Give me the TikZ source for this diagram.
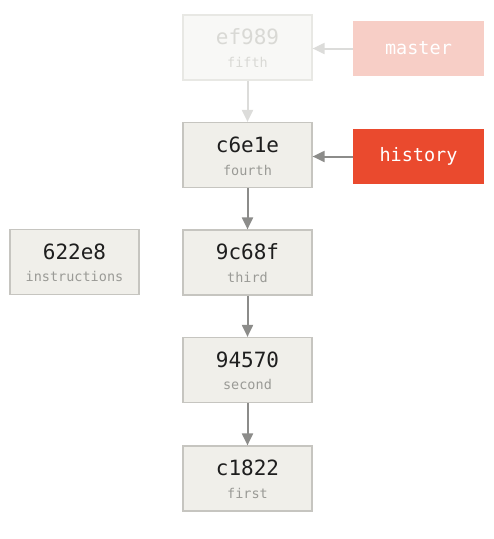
\documentclass[tikz,border=0pt]{standalone}
\usepackage{fontspec}
\setmonofont{DejaVu Sans Mono}
\usetikzlibrary{arrows.meta}
\definecolor{boxfill}{HTML}{F0EFEA}
\definecolor{boxline}{HTML}{C6C5C0}
\definecolor{arrowc}{HTML}{8C8C8A}
\definecolor{subtext}{HTML}{9A9A96}
\definecolor{hashtext}{HTML}{1E1E1E}
\definecolor{histfill}{HTML}{EA4A2E}
\definecolor{fadefill}{HTML}{F8F8F6}
\definecolor{fadeline}{HTML}{E8E8E4}
\definecolor{fadetext}{HTML}{D9D9D5}
\definecolor{fadearrow}{HTML}{DCDCDA}
\definecolor{masterfill}{HTML}{F7CEC6}
\tikzset{
  commit/.style={draw=boxline, fill=boxfill, line width=1.2pt, minimum width=129pt, minimum height=65pt, inner sep=0pt},
  fadecommit/.style={commit, draw=fadeline, fill=fadefill},
  branch/.style={fill=histfill, minimum width=131pt, minimum height=55pt, inner sep=0pt, text=white, font=\ttfamily\fontsize{18.5}{20}\selectfont},
  fadebranch/.style={branch, fill=masterfill},
  hashlbl/.style={font=\ttfamily\fontsize{21}{22}\selectfont, text=hashtext, inner sep=0pt},
  sublbl/.style={font=\ttfamily\fontsize{13.5}{15}\selectfont, text=subtext, inner sep=0pt},
  arr/.style={draw=arrowc, line width=2pt, -{Triangle[length=12pt,width=11pt]}},
  fadearr/.style={arr, draw=fadearrow}
}
\begin{document}
\begin{tikzpicture}[x=1pt,y=-1pt]
\useasboundingbox (0,0) rectangle (494,539);
% commits
\node[fadecommit] (ef) at (247.5,47.5) {};
\node[hashlbl, text=fadetext] at (247.5,37) {ef989};
\node[sublbl, text=fadetext] at (247.5,62) {fifth};

\node[commit] (c6) at (247.5,155) {};
\node[hashlbl] at (247.5,145) {c6e1e};
\node[sublbl] at (247.5,170) {fourth};

\node[commit] (c9) at (247.5,262.5) {};
\node[hashlbl] at (247.5,252) {9c68f};
\node[sublbl] at (247.5,277) {third};

\node[commit] (c94) at (247.5,370) {};
\node[hashlbl] at (247.5,359.5) {94570};
\node[sublbl] at (247.5,384.5) {second};

\node[commit] (c18) at (247.5,478.5) {};
\node[hashlbl] at (247.5,468) {c1822};
\node[sublbl] at (247.5,493) {first};

\node[commit] (c62) at (74.5,262) {};
\node[hashlbl] at (74.5,251.5) {622e8};
\node[sublbl] at (74.5,276.5) {instructions};

% branches
\node[fadebranch] (master) at (418.5,48.5) {master};
\node[branch] (history) at (418.5,156.5) {history};

% connectors
\draw[fadearr] (master.west) -- (ef.east |- master.west);
\draw[arr] (history.west) -- (c6.east |- history.west);
\draw[fadearr] (ef.south) -- (c6.north);
\draw[arr] (c6.south) -- (c9.north);
\draw[arr] (c9.south) -- (c94.north);
\draw[arr] (c94.south) -- (c18.north);
\end{tikzpicture}
\end{document}
